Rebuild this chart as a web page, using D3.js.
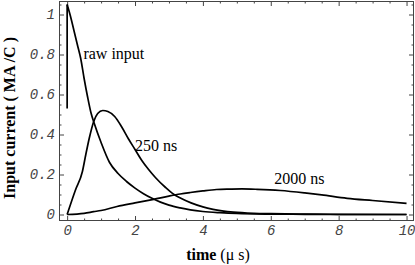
<!DOCTYPE html>
<html>
<head>
<meta charset="utf-8">
<script src="https://cdn.jsdelivr.net/npm/d3@7"></script>
<style>
  body { margin: 0; background: #fff; }
  svg { display: block; }
  .tick text { font-family: "Liberation Mono", "DejaVu Sans Mono", monospace; font-style: italic; font-size: 14px; fill: #444; }
  .tick line { stroke: #444; stroke-width: 1; }
  .lbl { font-family: "Liberation Serif", "Times New Roman", Times, serif; font-size: 16px; fill: #000; }
</style>
</head>
<body>
<script>
// values (time in microseconds, current in MA/C)
const rawT = [0, 0, 0.1, 0.2, 0.3, 0.4, 0.5, 0.6, 0.7, 0.8, 1.0, 1.25, 1.5, 1.75, 2.0, 2.25, 2.5, 2.75, 3.0, 3.33, 3.63, 4.0, 4.5, 5, 6, 7, 8, 10];
const rawV = [0.53, 1.05, 0.99, 0.92, 0.85, 0.78, 0.68, 0.59, 0.51, 0.455, 0.36, 0.26, 0.205, 0.165, 0.132, 0.104, 0.081, 0.062, 0.047, 0.033, 0.023, 0.015, 0.009, 0.005, 0.002, 0.001, 0, 0];

const t250 = [0, 0.24, 0.45, 0.55, 0.65, 0.78, 0.9, 1.05, 1.2, 1.4, 1.6, 1.8, 2.0, 2.2, 2.4, 2.6, 2.9, 3.15, 3.35, 3.65, 4.0, 4.3, 4.9, 5.5, 6, 7, 8, 10];
const v250 = [0, 0.12, 0.215, 0.30, 0.38, 0.464, 0.505, 0.52, 0.515, 0.49, 0.44, 0.38, 0.325, 0.27, 0.225, 0.185, 0.135, 0.10, 0.081, 0.058, 0.038, 0.026, 0.012, 0.006, 0.004, 0.002, 0.001, 0];

const t2000 = [0, 0.5, 0.78, 1.0, 1.47, 2.0, 2.55, 3.0, 3.33, 3.63, 4.0, 4.4, 4.8, 5.15, 5.6, 6.28, 7.0, 7.5, 8.25, 9.0, 10];
const v2000 = [0, 0.006, 0.014, 0.02, 0.04, 0.058, 0.076, 0.092, 0.1025, 0.11, 0.118, 0.125, 0.127, 0.128, 0.126, 0.12, 0.108, 0.098, 0.081, 0.07, 0.056];

const xTicks = [0, 2, 4, 6, 8, 10];
const yTicks = [0, 0.2, 0.4, 0.6, 0.8, 1];
const yTickLabels = ["0", "0.2", "0.4", "0.6", "0.8", "1"];

// curve labels: [text, t, v] anchor at start of text baseline
const curveLabels = [["raw input", 0.48, 0.78], ["250 ns", 2.0, 0.32], ["2000 ns", 6.1, 0.153]];

let width = 415, height = 265;
let frame = {left: 59, right: 414, top: 1, bottom: 221};

let svg = d3.select("body").append("svg")
  .attr("width", width)
  .attr("height", height);

let x = d3.scaleLinear().domain([-0.24, 10.22]).range([frame.left, frame.right]);
let y = d3.scaleLinear().domain([-0.0325, 1.0675]).range([frame.bottom, frame.top]);

// minor ticks every 0.5 / 0.05
let xMinor = d3.range(0, 10.01, 0.5).filter(d => Math.abs(d / 2 - Math.round(d / 2)) > 1e-6);
let yMinor = d3.range(0, 1.051, 0.05).filter(d => Math.abs(d / 0.2 - Math.round(d / 0.2)) > 1e-6);

function drawAxis(gen, pos, ticks, size, fmt, pad) {
  let g = svg.append("g").attr("transform", pos)
    .call(gen.tickValues(ticks).tickSize(size).tickPadding(pad).tickFormat(fmt));
  g.select(".domain").remove();
  return g;
}

// bottom + top
drawAxis(d3.axisBottom(x), `translate(0,${frame.bottom})`, xTicks, -5, d => d, 4);
drawAxis(d3.axisBottom(x), `translate(0,${frame.bottom})`, xMinor, -2.5, () => "", 4);
drawAxis(d3.axisTop(x), `translate(0,${frame.top})`, xTicks, -5, () => "", 4);
drawAxis(d3.axisTop(x), `translate(0,${frame.top})`, xMinor, -2.5, () => "", 4);
// left + right
drawAxis(d3.axisLeft(y), `translate(${frame.left},0)`, yTicks, -5, (d, i) => yTickLabels[i], 4);
drawAxis(d3.axisLeft(y), `translate(${frame.left},0)`, yMinor, -2.5, () => "", 4);
drawAxis(d3.axisRight(y), `translate(${frame.right},0)`, yTicks, -5, () => "", 4);
drawAxis(d3.axisRight(y), `translate(${frame.right},0)`, yMinor, -2.5, () => "", 4);

svg.append("rect")
  .attr("x", frame.left + 0.5).attr("y", frame.top + 0.5)
  .attr("width", frame.right - frame.left - 1).attr("height", frame.bottom - frame.top - 1)
  .attr("fill", "none").attr("stroke", "#444").attr("stroke-width", 1);

let line = d3.line()
  .x(d => x(d[0]))
  .y(d => y(d[1]))
  .curve(d3.curveMonotoneX);

function appendCurve(pts, curve) {
  svg.append("path")
    .datum(pts)
    .attr("d", curve ? line.curve(curve)(pts) : line(pts))
    .attr("fill", "none")
    .attr("stroke", "#000")
    .attr("stroke-width", 1.7)
    .attr("stroke-linejoin", "round");
  line.curve(d3.curveMonotoneX);
}

let rawPts = rawT.map((t, i) => [t, rawV[i]]);
appendCurve(rawPts.slice(0, 2), d3.curveLinear);   // vertical step of the raw pulse
appendCurve(rawPts.slice(1));
appendCurve(t250.map((t, i) => [t, v250[i]]));
appendCurve(t2000.map((t, i) => [t, v2000[i]]));

svg.selectAll(".curvelbl")
  .data(curveLabels)
  .enter().append("text")
  .attr("class", "lbl")
  .attr("x", d => x(d[1]))
  .attr("y", d => y(d[2]))
  .text(d => d[0]);

// axis titles
let xt = svg.append("text").attr("class", "lbl")
  .attr("x", 218).attr("y", 260).attr("text-anchor", "middle");
xt.append("tspan").attr("font-weight", "bold").text("time ");
xt.append("tspan").text("(\u03bc s)");

svg.append("text").attr("class", "lbl")
  .attr("transform", "translate(15,118) rotate(-90)")
  .attr("text-anchor", "middle")
  .attr("font-weight", "bold")
  .text("Input current ( MA /C )");
</script>
</body>
</html>
